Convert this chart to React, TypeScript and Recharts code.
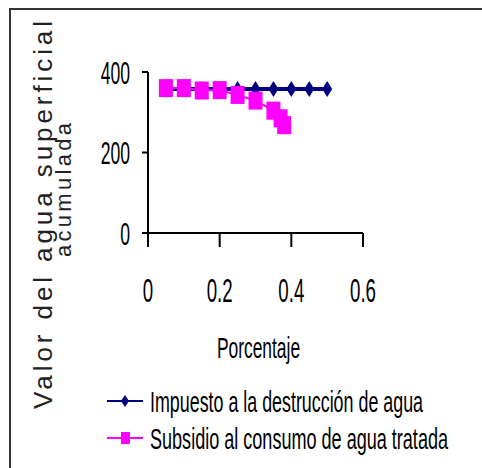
import { LineChart, Line, XAxis, YAxis } from "recharts";

// Porcentaje (x) y valor acumulado (y)
const impuestoX = [0.05, 0.1, 0.15, 0.2, 0.25, 0.3, 0.35, 0.4, 0.45, 0.5];
const impuestoY = [358, 358, 358, 358, 358, 358, 358, 358, 358, 358];
const subsidioX = [0.05, 0.1, 0.15, 0.2, 0.25, 0.3, 0.35, 0.37, 0.38];
const subsidioY = [360, 360, 354, 355, 343, 329, 304, 285, 268];

const xTicks = [0, 0.2, 0.4, 0.6];
const yTicks = [0, 200, 400];

const impuestoName = "Impuesto a la destrucción de agua";
const subsidioName = "Subsidio al consumo de agua tratada";
const yLabelLines = ["Valor del agua superficial", "acumulada"];
const xLabel = "Porcentaje";

const impuestoData = impuestoX.map((x, i) => ({ x, y: impuestoY[i] }));
const subsidioData = subsidioX.map((x, i) => ({ x, y: subsidioY[i] }));

const NAVY = "#000080";
const PINK = "#ff00ff";
const FONT = "'Liberation Sans', Arial, sans-serif";
const SQUEEZE = 0.55;

function Diamond({ cx, cy }: any) {
  if (cx == null || cy == null) return null;
  return (
    <polygon
      points={`${cx},${cy - 8} ${cx + 5},${cy} ${cx},${cy + 8} ${cx - 5},${cy}`}
      fill={NAVY}
    />
  );
}

function Square({ cx, cy }: any) {
  if (cx == null || cy == null) return null;
  return <rect x={cx - 7} y={cy - 9} width={14} height={18} fill={PINK} />;
}

function YTick({ x, y, payload }: any) {
  return (
    <text
      transform={`translate(${x},${y}) scale(${SQUEEZE},1)`}
      textAnchor="end"
      dy="0.36em"
      fontSize={32}
      fontFamily={FONT}
      fill="#000"
    >
      {payload.value}
    </text>
  );
}

function XTick({ x, y, payload }: any) {
  return (
    <text
      transform={`translate(${x},${y}) scale(${SQUEEZE},1)`}
      textAnchor="middle"
      fontSize={34}
      fontFamily={FONT}
      fill="#000"
    >
      {payload.value}
    </text>
  );
}

function LegendBox() {
  const rows = [
    { name: impuestoName, color: NAVY, y: 22, diamond: true, w: 273 },
    { name: subsidioName, color: PINK, y: 59, diamond: false, w: 298 },
  ];
  return (
    <svg
      width={482}
      height={90}
      style={{ position: "absolute", left: 0, top: 379 }}
    >
      {rows.map(({ name, color, y, diamond, w }) => (
        <g key={name}>
          <line x1={107} x2={143} y1={y} y2={y} stroke={color} strokeWidth={2} />
          {diamond ? (
            <polygon points={`125,${y - 6} 129,${y} 125,${y + 6} 121,${y}`} fill={color} />
          ) : (
            <rect x={121} y={y - 6} width={9} height={12} fill={color} />
          )}
          <text
            transform={`translate(150,${y + 11}) scale(0.6,1)`}
            fontSize={30}
            fontFamily={FONT}
            fill="#000"
            textLength={w / 0.6}
            lengthAdjust="spacingAndGlyphs"
          >
            {name}
          </text>
        </g>
      ))}
    </svg>
  );
}

export default function App() {
  return (
    <div
      style={{
        position: "fixed",
        left: 0,
        top: 0,
        width: 482,
        height: 468,
        background: "#fff",
        overflow: "hidden",
      }}
    >
      <div
        style={{
          position: "absolute",
          left: 9,
          top: 8,
          right: 0,
          bottom: 0,
          borderTop: "2px solid #333",
          borderLeft: "2px solid #333",
        }}
      />
      <LineChart
        width={482}
        height={468}
        margin={{ top: 72, right: 119, left: 0, bottom: 0 }}
        style={{ position: "absolute", left: 0, top: 0 }}
      >
        <XAxis
          type="number"
          dataKey="x"
          domain={[0, 0.6]}
          ticks={xTicks}
          height={235}
          tickSize={14}
          tickMargin={55}
          tick={<XTick />}
          stroke="#000"
          strokeWidth={2}
          label={{
            content: ({ viewBox }: any) => (
              <text
                transform={`translate(${viewBox.x + viewBox.width / 2 + 3},${358}) scale(0.58,1)`}
                textAnchor="middle"
                fontSize={30}
                fontFamily={FONT}
                fill="#000"
              >
                {xLabel}
              </text>
            ),
          }}
        />
        <YAxis
          type="number"
          dataKey="y"
          domain={[0, 400]}
          ticks={yTicks}
          width={148}
          tickSize={6}
          tickMargin={12}
          tick={<YTick />}
          stroke="#000"
          strokeWidth={2}
          label={{
            content: () => (
              <g fontFamily={FONT} fill="#222">
                <text
                  transform="translate(52,215) rotate(-90)"
                  textAnchor="middle"
                  fontSize={26}
                  textLength={388}
                  lengthAdjust="spacing"
                >
                  {yLabelLines[0]}
                </text>
                <text
                  transform="translate(71,190) rotate(-90)"
                  textAnchor="middle"
                  fontSize={22}
                  textLength={134}
                  lengthAdjust="spacing"
                >
                  {yLabelLines[1]}
                </text>
              </g>
            ),
          }}
        />
        <Line
          data={impuestoData}
          dataKey="y"
          name={impuestoName}
          stroke={NAVY}
          strokeWidth={4}
          dot={<Diamond />}
          activeDot={false}
          isAnimationActive={false}
        />
        <Line
          data={subsidioData}
          dataKey="y"
          name={subsidioName}
          stroke={PINK}
          strokeWidth={2}
          dot={<Square />}
          activeDot={false}
          isAnimationActive={false}
        />
      </LineChart>
      <LegendBox />
    </div>
  );
}
